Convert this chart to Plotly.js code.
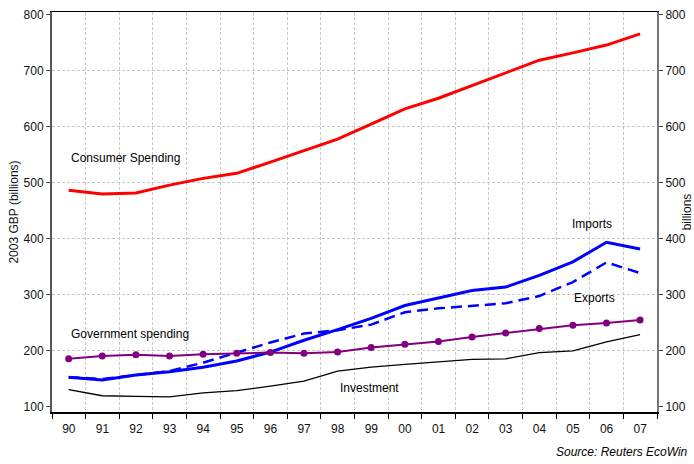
<!DOCTYPE html>
<html>
<head>
<meta charset="utf-8">
<script src="https://cdn.plot.ly/plotly-3.0.1.min.js"></script>
<style>
  html, body { margin: 0; padding: 0; background: #fff; }
  #chart { width: 694px; height: 464px; }
</style>
</head>
<body>
<div id="chart"></div>
<script>
// Years (values plotted at mid-year), billions of 2003 GBP
const years = [1990, 1991, 1992, 1993, 1994, 1995, 1996, 1997, 1998,
               1999, 2000, 2001, 2002, 2003, 2004, 2005, 2006, 2007];
const consumerSpending = [487, 480, 482, 496, 508, 517, 537, 557, 578,
                          605, 632, 651, 674, 696, 719, 732, 746, 766];
const imports = [153, 148, 157, 163, 171, 182, 198, 219, 238,
                 258, 281, 294, 308, 314, 335, 359, 394, 382];
const exports = [153, 150, 157, 164, 179, 197, 215, 231, 237,
                 247, 269, 276, 280, 285, 298, 323, 358, 339];
const governmentSpending = [186, 191, 193, 191, 194, 196, 197, 196, 198,
                            206, 212, 217, 225, 232, 240, 246, 250, 255];
const investment = [131, 120, 119, 118, 125, 129, 137, 146, 164,
                    171, 176, 180, 185, 186, 197, 200, 216, 229];

const midYear = years.map(y => y + '-07-01');
const FONT = 'Liberation Sans, Arial, sans-serif';
const GRID = '#c8c8c8';
const GRID_DASH = '3px,2px';

const yRange = [91, 805];
const yTicks = [100, 200, 300, 400, 500, 600, 700, 800];
const gridTicks = [200, 300, 400, 500, 600, 700];

const traces = [
  // carries the horizontal grid (drawn beneath the series)
  { x: midYear, y: consumerSpending, yaxis: 'y3', mode: 'lines', hoverinfo: 'skip',
    showlegend: false, line: { width: 0, color: 'rgba(0,0,0,0)' } },
  { x: midYear, y: exports, mode: 'lines', name: 'Exports',
    line: { color: '#0000ff', width: 2.5, dash: '11px,6px' } },
  { x: midYear, y: imports, mode: 'lines', name: 'Imports',
    line: { color: '#0000ff', width: 3 } },
  { x: midYear, y: investment, mode: 'lines', name: 'Investment',
    line: { color: '#000000', width: 1.3 } },
  { x: midYear, y: governmentSpending, mode: 'lines+markers', name: 'Government spending',
    line: { color: '#800080', width: 2 }, marker: { color: '#800080', size: 7 } },
  { x: midYear, y: consumerSpending, mode: 'lines', name: 'Consumer Spending',
    line: { color: '#ff0000', width: 3 } },
  // carries the right-hand axis
  { x: midYear, y: consumerSpending, yaxis: 'y2', mode: 'lines', hoverinfo: 'skip',
    showlegend: false, line: { width: 0, color: 'rgba(0,0,0,0)' } }
];

const seriesLabel = (text, x, y) => ({
  text: text, x: x, y: y, xref: 'x', yref: 'y', xanchor: 'left', yanchor: 'middle',
  showarrow: false, font: { family: FONT, size: 12, color: '#000' }
});

const layout = {
  width: 694, height: 464,
  margin: { l: 52, r: 37, t: 12, b: 52 },
  paper_bgcolor: '#fff', plot_bgcolor: '#fff',
  showlegend: false,
  font: { family: FONT, size: 12, color: '#111' },
  xaxis: {
    type: 'date',
    range: ['1990-01-01', '2008-01-01'],
    tick0: '1990-01-01', dtick: 'M12', tickformat: '%y',
    ticklabelmode: 'period',
    ticks: 'outside', ticklen: 5, tickcolor: '#000', tickwidth: 1,
    showgrid: true, gridcolor: GRID, griddash: GRID_DASH, gridwidth: 1,
    showline: true, linecolor: '#000', linewidth: 1.5, mirror: true,
    zeroline: false,
    tickfont: { family: FONT, size: 12, color: '#111' }
  },
  yaxis: {
    range: yRange, tickvals: yTicks,
    ticks: 'outside', ticklen: 4, tickcolor: '#444',
    showgrid: false, zeroline: false,
    showline: true, linecolor: '#555', linewidth: 2,
    title: { text: '2003 GBP (billions)', standoff: 2,
             font: { family: FONT, size: 12, color: '#111' } },
    tickfont: { family: FONT, size: 12, color: '#111' }
  },
  yaxis3: {
    overlaying: 'y', range: yRange, tickvals: gridTicks,
    showticklabels: false, ticks: '', showline: false, zeroline: false,
    showgrid: true, gridcolor: GRID, griddash: GRID_DASH, gridwidth: 1
  },
  yaxis2: {
    overlaying: 'y', side: 'right', range: yRange, tickvals: yTicks,
    ticks: 'outside', ticklen: 4, tickcolor: '#444',
    showgrid: false, zeroline: false,
    showline: true, linecolor: '#777', linewidth: 2,
    title: { text: 'billions', standoff: 6,
             font: { family: FONT, size: 12, color: '#111' } },
    tickfont: { family: FONT, size: 12, color: '#111' }
  },
  annotations: [
    seriesLabel('Consumer Spending', '1990-07-05', 544),
    seriesLabel('Government spending', '1990-07-05', 230),
    seriesLabel('Investment', '1998-07-01', 133),
    seriesLabel('Imports', '2005-06-05', 426),
    seriesLabel('Exports', '2005-06-20', 294),
    { text: '<i>Source: Reuters EcoWin</i>', xref: 'paper', yref: 'paper',
      x: 1, y: -0.1, xshift: 33, xanchor: 'right', yanchor: 'middle',
      showarrow: false, font: { family: FONT, size: 12, color: '#000' } }
  ]
};

Plotly.newPlot('chart', traces, layout, { staticPlot: true, displayModeBar: false });
</script>
</body>
</html>
